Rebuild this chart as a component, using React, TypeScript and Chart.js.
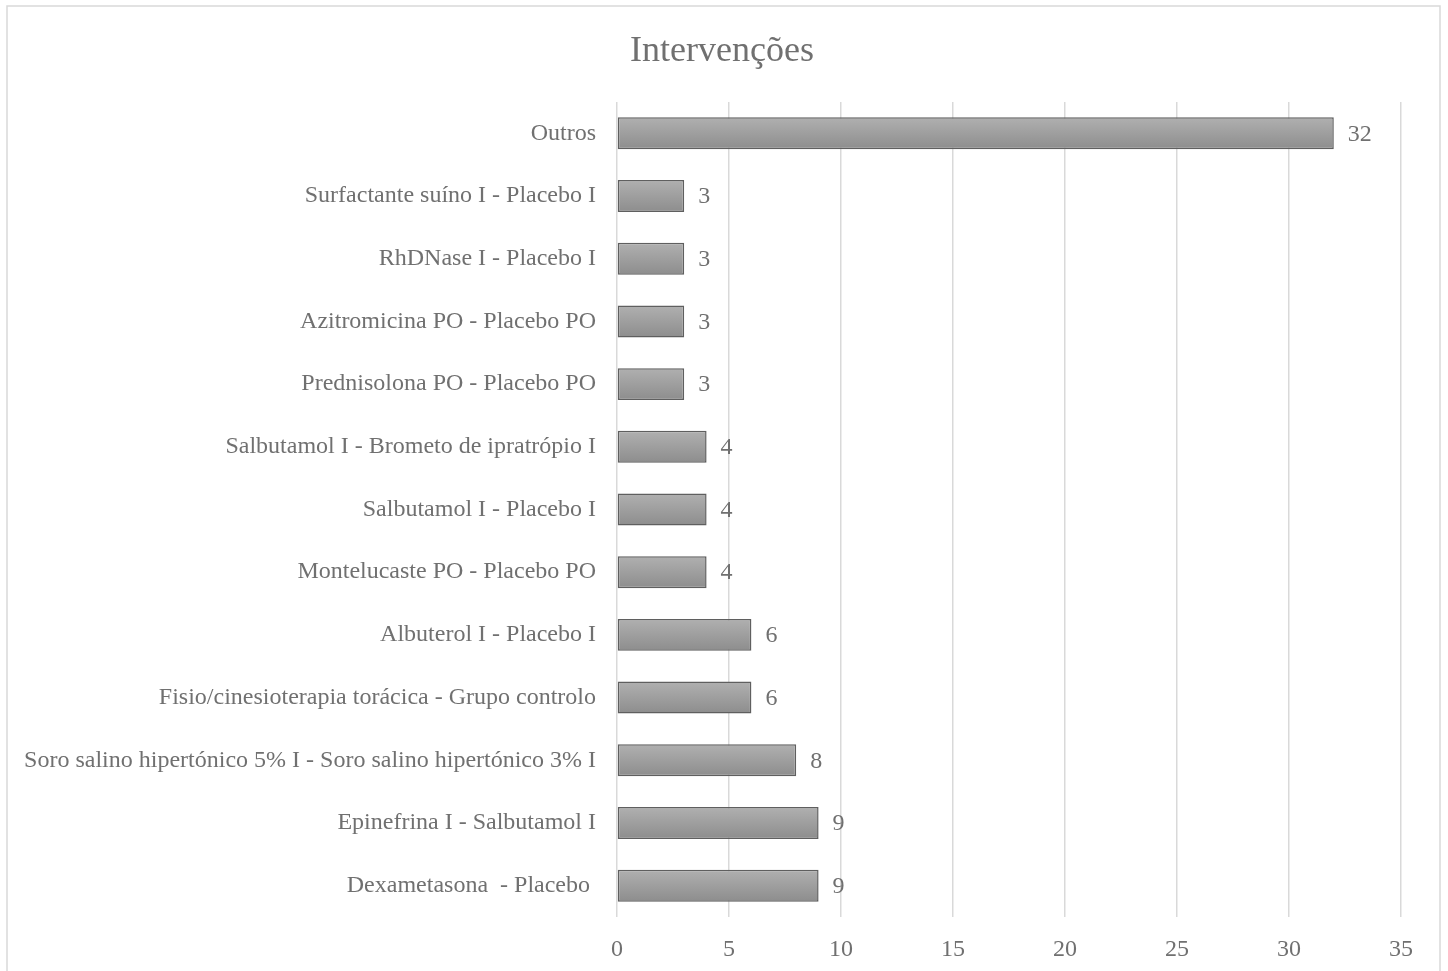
import React, { useEffect, useRef } from "react";
import { Chart, registerables } from "chart.js";

Chart.register(...registerables);

const chartTitle = "Intervenções";

const categories: string[] = [
  "Outros",
  "Surfactante suíno I - Placebo I",
  "RhDNase I - Placebo I",
  "Azitromicina PO - Placebo PO",
  "Prednisolona PO - Placebo PO",
  "Salbutamol I - Brometo de ipratrópio I",
  "Salbutamol I - Placebo I",
  "Montelucaste PO - Placebo PO",
  "Albuterol I - Placebo I",
  "Fisio/cinesioterapia torácica - Grupo controlo",
  "Soro salino hipertónico 5% I - Soro salino hipertónico 3% I",
  "Epinefrina I - Salbutamol I",
  "Dexametasona  - Placebo ",
];

const counts: number[] = [32, 3, 3, 3, 3, 4, 4, 4, 6, 6, 8, 9, 9];

const xMax = 35;
const xStep = 5;

const TEXT = "#707070";
const GRID = "#d9d9d9";
const FONT = "'Liberation Serif', 'Times New Roman', serif";
const BAR_FRACTION = 0.51;

// White background, thin frame around the whole chart and the title
const framePlugin = {
  id: "frame",
  beforeDraw(chart: Chart) {
    const ctx = chart.ctx;
    ctx.save();
    ctx.fillStyle = "#ffffff";
    ctx.fillRect(0, 0, chart.width, chart.height);
    ctx.strokeStyle = GRID;
    ctx.lineWidth = 1.5;
    ctx.strokeRect(7, 6, 1433, 1000);
    ctx.font = `36px ${FONT}`;
    ctx.fillStyle = TEXT;
    ctx.textAlign = "center";
    ctx.textBaseline = "middle";
    ctx.fillText(chartTitle, 722, 52);
    ctx.restore();
  },
};

// Value written just past the end of each bar
const valueLabelPlugin = {
  id: "valueLabels",
  afterDatasetsDraw(chart: Chart) {
    const ctx = chart.ctx;
    const meta = chart.getDatasetMeta(0);
    ctx.save();
    ctx.font = `24px ${FONT}`;
    ctx.fillStyle = TEXT;
    ctx.textAlign = "left";
    ctx.textBaseline = "middle";
    meta.data.forEach((el: any, i: number) => {
      ctx.fillText(String(counts[i]), el.x + 14, el.y + 1);
    });
    ctx.restore();
  },
};

export default function App() {
  const ref = useRef<HTMLCanvasElement | null>(null);

  useEffect(() => {
    if (!ref.current) return;
    const chart = new Chart(ref.current, {
      type: "bar",
      data: {
        labels: categories,
        datasets: [
          {
            data: counts,
            backgroundColor: (c: any) => {
              const ch = c.chart;
              const yScale = ch.scales?.y;
              if (!yScale || c.dataIndex === undefined) return "#9e9e9e";
              const cy = yScale.getPixelForValue(c.dataIndex);
              const half = (yScale.height / categories.length) * BAR_FRACTION * 0.5;
              if (!isFinite(cy) || !isFinite(half) || half <= 0) return "#9e9e9e";
              const g = ch.ctx.createLinearGradient(0, cy - half, 0, cy + half);
              g.addColorStop(0, "#b0b0b0");
              g.addColorStop(1, "#8d8d8d");
              return g;
            },
            borderColor: "#5f5f5f",
            borderWidth: 1.5,
            borderSkipped: false,
            categoryPercentage: 1,
            barPercentage: BAR_FRACTION,
          },
        ],
      },
      options: {
        indexAxis: "y",
        animation: false,
        responsive: false,
        maintainAspectRatio: false,
        layout: { padding: { left: 0, right: 47, top: 102, bottom: 0 } },
        plugins: {
          legend: { display: false },
          tooltip: { enabled: false },
          title: { display: false },
        },
        scales: {
          x: {
            min: 0,
            max: xMax,
            ticks: {
              stepSize: xStep,
              color: TEXT,
              font: { family: FONT, size: 24 },
              padding: 18,
            },
            grid: { color: GRID, lineWidth: 1.5, drawTicks: false },
            border: { display: false },
            afterFit: (s: any) => {
              s.height = 54;
            },
          },
          y: {
            ticks: {
              color: TEXT,
              font: { family: FONT, size: 24 },
              padding: 21,
              autoSkip: false,
            },
            grid: { display: false, drawTicks: false },
            border: { display: false },
            afterFit: (s: any) => {
              s.width = 617;
            },
          },
        },
      },
      plugins: [framePlugin, valueLabelPlugin],
    });
    return () => chart.destroy();
  }, []);

  return (
    <div style={{ position: "fixed", left: 0, top: 0, width: 1448, height: 971 }}>
      <canvas ref={ref} width={1448} height={971} />
    </div>
  );
}
